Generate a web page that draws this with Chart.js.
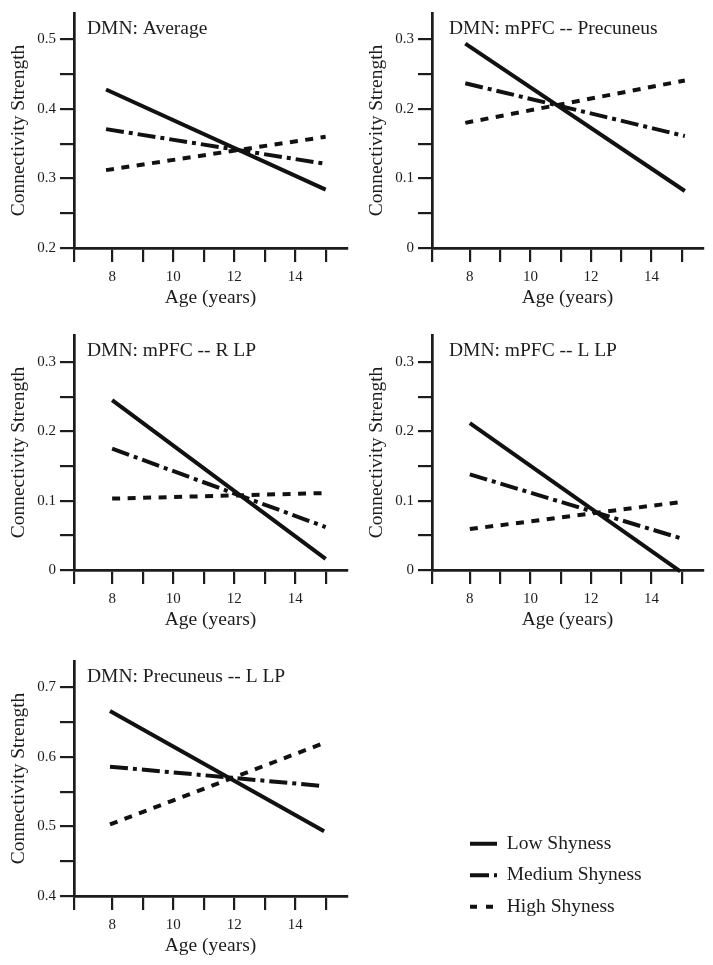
<!DOCTYPE html>
<html><head><meta charset="utf-8">
<script src="https://cdn.jsdelivr.net/npm/chart.js@4"></script>
<style>
html,body{margin:0;padding:0;background:#fff;}
body{width:713px;height:965px;position:relative;overflow:hidden;}
canvas{position:absolute;}
</style></head><body>
<canvas id="p0" width="356" height="318" style="left:0;top:0"></canvas>
<canvas id="p1" width="354" height="318" style="left:358px;top:0"></canvas>
<canvas id="p2" width="356" height="318" style="left:0;top:322px"></canvas>
<canvas id="p3" width="354" height="318" style="left:358px;top:322px"></canvas>
<canvas id="p4" width="356" height="318" style="left:0;top:648px"></canvas>
<canvas id="lg" width="600" height="110" style="left:458px;top:822px"></canvas>
<script>
// ---- data ----
const panelTitles = ['DMN: Average', 'DMN: mPFC -- Precuneus', 'DMN: mPFC -- R LP', 'DMN: mPFC -- L LP', 'DMN: Precuneus -- L LP'];
const seriesNames = ['Low Shyness', 'Medium Shyness', 'High Shyness'];
const ageStart = [7.8, 7.85, 8.0, 8.0, 7.93];
const ageEnd = [15.0, 15.1, 15.0, 14.95, 14.95];
const lowShyness = [[0.428, 0.284], [0.294, 0.082], [0.245, 0.016], [0.212, -0.002], [0.666, 0.493]];
const mediumShyness = [[0.371, 0.321], [0.237, 0.161], [0.175, 0.062], [0.138, 0.046], [0.586, 0.558]];
const highShyness = [[0.312, 0.360], [0.180, 0.241], [0.103, 0.111], [0.059, 0.098], [0.503, 0.620]];
const xTickMarks = [6.75, 8, 9, 10, 11, 12, 13, 14, 15];
const xTickLabels = ['', '8', '', '10', '', '12', '', '14', ''];
const yAxisMin = [0.2, 0, 0, 0, 0.4];
const yAxisMax = [0.538, 0.338, 0.339, 0.339, 0.738];
const yTickValues = [
  [0.2, 0.25, 0.3, 0.35, 0.4, 0.45, 0.5],
  [0, 0.05, 0.1, 0.15, 0.2, 0.25, 0.3],
  [0, 0.05, 0.1, 0.15, 0.2, 0.25, 0.3],
  [0, 0.05, 0.1, 0.15, 0.2, 0.25, 0.3],
  [0.4, 0.45, 0.5, 0.55, 0.6, 0.65, 0.7]
];
const yTickLabels = [
  ['0.2', '', '0.3', '', '0.4', '', '0.5'],
  ['0', '', '0.1', '', '0.2', '', '0.3'],
  ['0', '', '0.1', '', '0.2', '', '0.3'],
  ['0', '', '0.1', '', '0.2', '', '0.3'],
  ['0.4', '', '0.5', '', '0.6', '', '0.7']
];

// ---- styles ----
const INK = '#1c1c1c';
const LINE = '#111';
const FONT = "'Liberation Serif', 'Times New Roman', serif";
Chart.defaults.font.family = FONT;
Chart.defaults.color = INK;
const seriesDash = [[], [18, 5, 4, 5], [8, 7.5]];
const legendDash = [[], [19, 5, 4, 5], [7, 9]];
const titleDx = [13, 17, 13, 17, 13];

const panelTitlePlugin = {
  id: 'panelTitle',
  afterDraw(chart, args, opts) {
    const {ctx, chartArea} = chart;
    ctx.save();
    ctx.font = '19.5px ' + FONT;
    ctx.fillStyle = INK;
    ctx.textBaseline = 'alphabetic';
    ctx.textAlign = 'left';
    ctx.fillText(opts.text, chartArea.left + opts.dx, chartArea.top + 20.5);
    ctx.restore();
  }
};

function makePanel(p) {
  const series = [lowShyness[p], mediumShyness[p], highShyness[p]];
  const datasets = series.map((vals, i) => ({
    label: seriesNames[i],
    data: [{x: ageStart[p], y: vals[0]}, {x: ageEnd[p], y: vals[1]}],
    borderColor: LINE,
    borderWidth: 4,
    borderDash: seriesDash[i],
    borderCapStyle: 'butt',
    pointRadius: 0,
    tension: 0,
    fill: false,
    clip: false
  }));
  const axisCommon = {
    grid: {display: true, drawOnChartArea: false, drawTicks: true, tickLength: 14, color: INK, lineWidth: 2.2},
    border: {display: true, color: INK, width: 2.7}
  };
  new Chart(document.getElementById('p' + p), {
    type: 'line',
    data: {datasets},
    plugins: [panelTitlePlugin],
    options: {
      responsive: false, animation: false, devicePixelRatio: 1, events: [],
      layout: {padding: {top: 8, right: 9, bottom: 8, left: 0}},
      plugins: {legend: {display: false}, tooltip: {enabled: false},
        panelTitle: {text: panelTitles[p], dx: titleDx[p]}},
      scales: {
        x: Object.assign({}, axisCommon, {
          type: 'linear', min: 6.75, max: 15.7,
          afterBuildTicks: s => { s.ticks = xTickMarks.map(v => ({value: v})); },
          afterFit: s => { s.height = 62; },
          ticks: {autoSkip: false, maxRotation: 0, padding: 6, color: INK, font: {size: 15},
            callback: (v, i) => xTickLabels[i]},
          title: {display: true, text: 'Age (years)', color: INK, font: {size: 19.5}, padding: 0}
        }),
        y: Object.assign({}, axisCommon, {
          type: 'linear', min: yAxisMin[p], max: yAxisMax[p],
          afterBuildTicks: s => { s.ticks = yTickValues[p].map(v => ({value: v})); },
          afterFit: s => { s.width = 74; },
          ticks: {autoSkip: false, padding: 4, color: INK, font: {size: 15},
            callback: (v, i) => yTickLabels[p][i]},
          title: {display: true, text: 'Connectivity Strength', color: INK, font: {size: 19.5}, padding: {top: 7, bottom: 0}}
        })
      }
    }
  });
}
for (let p = 0; p < 5; p++) makePanel(p);

// ---- legend ----
new Chart(document.getElementById('lg'), {
  type: 'line',
  data: {datasets: seriesNames.map((n, i) => ({label: n, data: [], borderColor: LINE, borderWidth: 4, borderDash: legendDash[i]}))},
  options: {
    responsive: false, animation: false, devicePixelRatio: 1, events: [],
    layout: {padding: 0},
    scales: {x: {display: false}, y: {display: false}},
    plugins: {
      tooltip: {enabled: false},
      legend: {display: true, position: 'left', align: 'start',
        labels: {usePointStyle: true, pointStyleWidth: 27, padding: 12, color: INK, font: {size: 19.5},
          generateLabels: chart => chart.data.datasets.map((d, i) => ({
            text: d.label, strokeStyle: d.borderColor, fillStyle: d.borderColor,
            lineWidth: d.borderWidth, lineDash: d.borderDash, lineDashOffset: 0,
            lineCap: 'butt', pointStyle: 'line', hidden: false, datasetIndex: i, fontColor: INK
          }))
        }
      }
    }
  }
});
</script>
</body></html>
